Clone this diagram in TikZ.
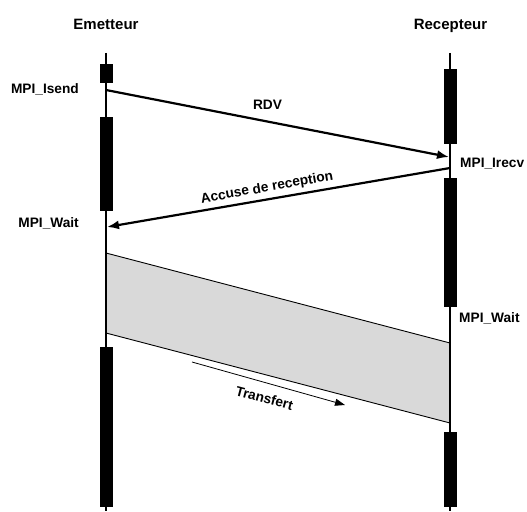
\documentclass[tikz,border=0pt]{standalone}
\usepackage{fontspec}
\setmainfont{Liberation Sans}
\usetikzlibrary{arrows.meta}
\begin{document}
\begin{tikzpicture}[x=1pt,y=-1pt]
	\tikzstyle{bloc}=[fill=black];
	\tikzstyle{vie}=[line width=1.2pt];
	\tikzstyle{msg}=[line width=2.2pt,-{Latex[length=12pt,width=9pt]}];
	\tikzstyle{flux}=[line width=0.8pt,-{Triangle[length=10pt,width=7pt]}];
	\tikzstyle{bande}=[line width=0.9pt];
	\tikzstyle{titre}=[font=\fontsize{15}{18}\selectfont\bfseries,inner sep=0pt];
	\tikzstyle{lbl}=[font=\fontsize{13.7}{16}\selectfont\bfseries,inner sep=0pt];

	\useasboundingbox (0,0) rectangle (527,511);

	\coordinate (e0) at (106,53);
	\coordinate (e9) at (106,511);
	\coordinate (r0) at (450,53);
	\coordinate (r9) at (450,511);
	\coordinate (isend) at (106,90);
	\coordinate (irecv) at (449,157);
	\coordinate (ack) at (450,168);
	\coordinate (wait) at (107,227);
	\coordinate (ba) at (106,253);
	\coordinate (bb) at (450,343);
	\coordinate (bc) at (450,423);
	\coordinate (bd) at (106,333);
	\coordinate (t1) at (192,362);
	\coordinate (t2) at (345,405);

	% transfert
	\fill[black!15] (ba) -- (bb) -- (bc) -- (bd) -- cycle;
	\draw[bande] (ba) -- (bb);
	\draw[bande] (bd) -- (bc);

	\draw[vie] (e0) -- (e9);
	\draw[vie] (r0) -- (r9);

	\draw[bloc] (100.5,64)  rectangle (112.5,82);
	\draw[bloc] (100.5,117) rectangle (112.5,210);
	\draw[bloc] (100.5,347) rectangle (112.5,506);
	\draw[bloc] (444,69)    rectangle (456.5,143);
	\draw[bloc] (444,178)   rectangle (456.5,306);
	\draw[bloc] (444,432)   rectangle (456.5,506);

	\node[titre,anchor=base] (emetteur) at (106,29.5) {Emetteur};
	\node[titre,anchor=base] (recepteur) at (450.5,29.5) {Recepteur};
	\node[lbl,anchor=base east] (isendtxt) at (79,93) {MPI\_Isend};
	\node[lbl,anchor=base east] (waite) at (79,227) {MPI\_Wait};
	\node[lbl,anchor=base west] (irecvtxt) at (460,167) {MPI\_Irecv};
	\node[lbl,anchor=base west] (waitr) at (459,322) {MPI\_Wait};

	\draw[msg] (isend) -- (irecv);
	\node[lbl,anchor=base] (rdv) at (267.5,109) {RDV};
	\draw[msg] (ack) -- (wait);
	\node[lbl,rotate=10] (accuse) at (267,188) {Accuse de reception};
	\draw[flux] (t1) -- (t2);
	\node[lbl,rotate=-15] (transfert) at (264.5,398) {Transfert};
\end{tikzpicture}
\end{document}
